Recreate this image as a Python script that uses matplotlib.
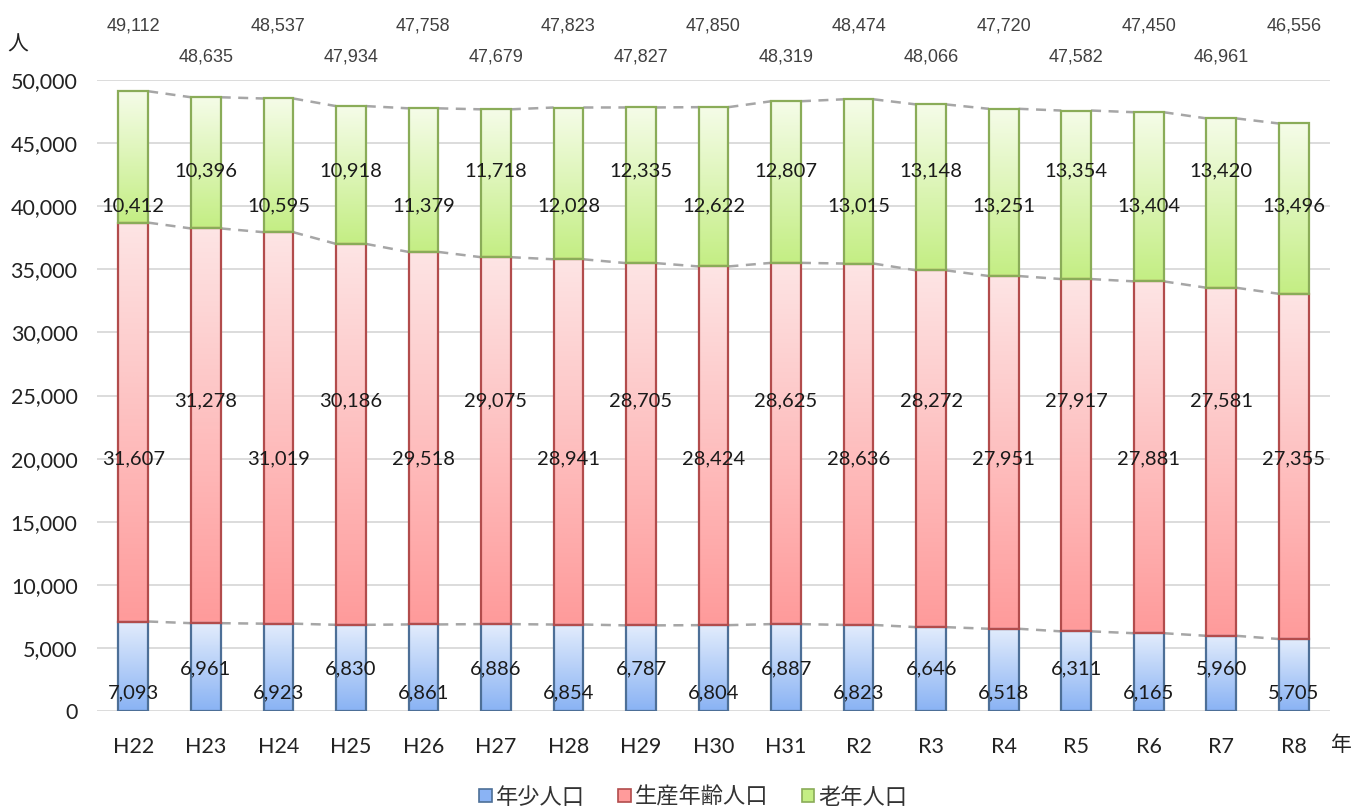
import matplotlib
matplotlib.use("Agg")
import matplotlib.pyplot as plt
import numpy as np
from matplotlib.colors import LinearSegmentedColormap
from matplotlib.patches import Patch

# ---- data ----
years = ["H22", "H23", "H24", "H25", "H26", "H27", "H28", "H29", "H30", "H31",
         "R2", "R3", "R4", "R5", "R6", "R7", "R8"]
young = [7093, 6961, 6923, 6830, 6861, 6886, 6854, 6787, 6804, 6887,
         6823, 6646, 6518, 6311, 6165, 5960, 5705]
working = [31607, 31278, 31019, 30186, 29518, 29075, 28941, 28705, 28424, 28625,
           28636, 28272, 27951, 27917, 27881, 27581, 27355]
elderly = [10412, 10396, 10595, 10918, 11379, 11718, 12028, 12335, 12622, 12807,
           13015, 13148, 13251, 13354, 13404, 13420, 13496]
totals = [49112, 48635, 48537, 47934, 47758, 47679, 47823, 47827, 47850, 48319,
          48474, 48066, 47720, 47582, 47450, 46961, 46556]
series_names = ["年少人口", "生産年齢人口", "老年人口"]

# gradient (top colour, bottom colour) and edge colour per series
styles = [
    ("#e2ecfc", "#8ab3f4", "#4d6f97"),
    ("#fde4e4", "#ff9b9b", "#b24c4c"),
    ("#f5fce8", "#c4ee84", "#8aac58"),
]
# label heights (alternating low / high)
label_rows = [(1400, 3300), (20000, 24600), (40000, 42800)]

fig = plt.figure(figsize=(13.65, 8.1), dpi=100)
ax = fig.add_axes([0.0711, 0.1222, 0.9033, 0.779])

x = np.arange(len(years))
w = 0.41
grad = np.linspace(0, 1, 64).reshape(-1, 1)

bottoms = np.zeros(len(years))
tops_per_series = []
for values, (c_top, c_bot, c_edge), (lo, hi) in zip([young, working, elderly], styles, label_rows):
    vals = np.array(values, dtype=float)
    cmap = LinearSegmentedColormap.from_list("g", [c_bot, c_top])
    bars = ax.bar(x, vals, w, bottom=bottoms, facecolor="none",
                  edgecolor=c_edge, linewidth=1.6, zorder=4)
    for rect in bars:
        x0, y0 = rect.get_x(), rect.get_y()
        im = ax.imshow(grad, cmap=cmap, origin="lower", aspect="auto",
                       extent=[x0, x0 + rect.get_width(), y0, y0 + rect.get_height()],
                       zorder=3, interpolation="bilinear")
        im.set_clip_path(rect)
    for i, v in enumerate(values):
        ax.text(x[i], lo if i % 2 == 0 else hi, f"{v:,}", ha="center", va="center",
                fontsize=14.5, family="Lato", color="#1a1a1a", zorder=6)
    bottoms = bottoms + vals
    tops_per_series.append(bottoms.copy())

# dashed series lines between bars
for tops in tops_per_series:
    for i in range(len(years) - 1):
        ax.plot([x[i] + w / 2, x[i + 1] - w / 2], [tops[i], tops[i + 1]],
                color="#a6a6a6", linewidth=1.8, linestyle=(0, (4, 3)), zorder=2)

# totals above the plot
for i, t in enumerate(totals):
    ax.text(x[i], 54300 if i % 2 == 0 else 51800, f"{t:,}", ha="center", va="center",
            fontsize=13, family="Liberation Sans", color="#404040", clip_on=False)

ax.set_xlim(-0.5, len(years) - 0.5)
ax.set_ylim(0, 50000)
ax.set_yticks(np.arange(0, 50001, 5000))
ax.yaxis.set_major_formatter(matplotlib.ticker.FuncFormatter(lambda v, p: f"{int(v):,}"))
ax.set_xticks(x)
ax.set_xticklabels(years)
ax.grid(axis="y", color="#d9d9d9", linewidth=1.3, zorder=0)
ax.set_axisbelow(True)
for s in ax.spines.values():
    s.set_visible(False)
ax.tick_params(axis="both", length=0, labelsize=15.5, colors="#222222")
ax.tick_params(axis="y", pad=14)
ax.tick_params(axis="x", pad=19)
for lab in ax.get_xticklabels() + ax.get_yticklabels():
    lab.set_family("Lato")

fig.text(18 / 1365, 1 - 45 / 810, "人", fontsize=15, family="Noto Sans CJK JP",
         ha="center", va="center", color="#222222")
fig.text(1341 / 1365, 1 - 745 / 810, "年", fontsize=15, family="Noto Sans CJK JP",
         ha="center", va="center", color="#222222")

handles = [Patch(facecolor=s[1], edgecolor=s[2], linewidth=1.2) for s in styles]
leg = fig.legend(handles, series_names, loc="center", bbox_to_anchor=(0.508, 1 - 797 / 810),
                 ncol=3, frameon=False, handlelength=0.55, handleheight=0.55,
                 handletextpad=0.2, columnspacing=1.5,
                 prop={"family": "Noto Sans CJK JP", "size": 16})
for t in leg.get_texts():
    t.set_color("#333333")

fig.savefig("out.png", dpi=100)
